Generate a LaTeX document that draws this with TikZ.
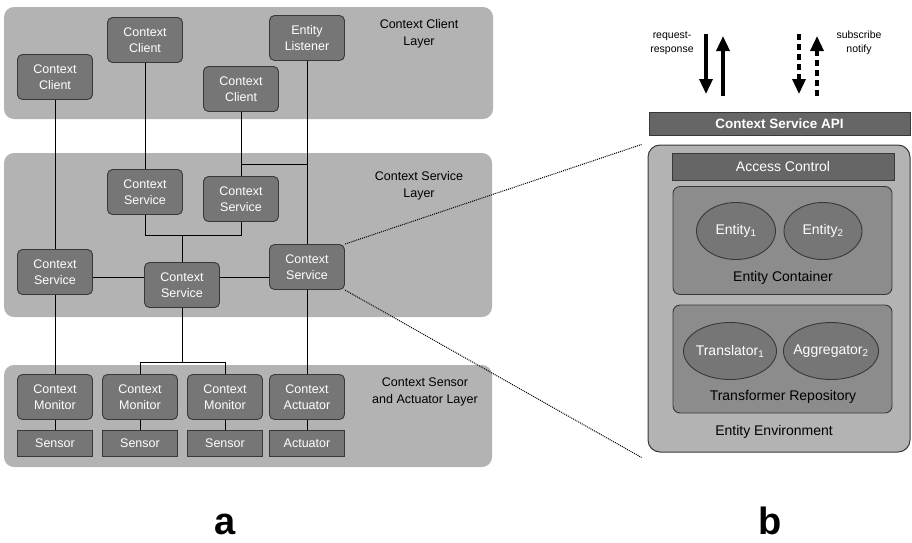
\documentclass[tikz,border=0pt]{standalone}
\usepackage{fontspec}
\setmainfont{Liberation Sans}
\usepackage{tikz}
\usetikzlibrary{arrows.meta,positioning,calc,shapes.geometric}
\definecolor{tiergray}{HTML}{B3B3B3}
\definecolor{compgray}{HTML}{767676}
\definecolor{edgegray}{HTML}{383838}
\definecolor{contgray}{HTML}{8C8C8C}
\definecolor{bargray}{HTML}{666666}
\tikzset{tier/.style={fill=tiergray, rounded corners=10pt, inner sep=0pt},
  comp/.style={draw=edgegray, fill=compgray, line width=0.9pt, rounded corners=5pt,
    minimum width=75pt, minimum height=45pt, inner sep=0pt, align=center,
    text=white, font=\fontsize{12.5}{16.5}\selectfont},
  sens/.style={comp, rounded corners=0pt, minimum height=26pt},
  tierlbl/.style={align=center, font=\fontsize{12.5}{17}\selectfont},
  bar/.style={draw=edgegray, fill=bargray, line width=0.9pt, inner sep=0pt,
    text=white, font=\fontsize{14}{17}\selectfont},
  cont/.style={draw=edgegray, fill=contgray, line width=0.9pt, rounded corners=7pt,
    minimum width=219pt, minimum height=108pt, inner sep=0pt},
  ent/.style={ellipse, draw=edgegray, fill=compgray, line width=0.9pt, inner ysep=0pt,
    inner xsep=-4pt, minimum height=57pt, text=white, font=\fontsize{14}{17}\selectfont},
  small/.style={align=center, font=\fontsize{10.5}{14}\selectfont},
  link/.style={line width=0.9pt},
  fat/.style={line width=3.4pt, -{Triangle[length=15pt, width=13pt]}}}

\begin{document}
\begin{tikzpicture}[x=1pt, y=-1pt]
\useasboundingbox (0,0) rectangle (912,542);
% layers
\node[tier, minimum width=489pt, minimum height=112pt] (clientL) at (248.5,63) {};
\node[tier, minimum width=488pt, minimum height=164pt] (serviceL) at (248,235) {};
\node[tier, minimum width=488pt, minimum height=102pt] (sensorL) at (248,416) {};
\node[tierlbl] (clientT) at (419,34) {Context Client\\Layer};
\node[tierlbl] (serviceT) at (419,186) {Context Service\\Layer};
\node[tierlbl] (sensorT) at (425,392) {Context Sensor\\and Actuator Layer};
% clients
\node[comp] (cc1) at (55,77) {Context\\Client};
\node[comp] (cc2) at (145,40) {Context\\Client};
\node[comp] (cc3) at (241,89) {Context\\Client};
\node[comp] (el) at (307,38) {Entity\\Listener};
% services
\node[comp] (csa) at (145,192) {Context\\Service};
\node[comp] (csb) at (241,199) {Context\\Service};
\node[comp] (csl) at (55,272) {Context\\Service};
\node[comp] (csm) at (182,285) {Context\\Service};
\node[comp] (csr) at (307,267) {Context\\Service};
% monitors, actuator
\node[comp] (cm1) at (55,397) {Context\\Monitor};
\node[comp] (cm2) at (140,397) {Context\\Monitor};
\node[comp] (cm3) at (225,397) {Context\\Monitor};
\node[comp] (ca) at (307,397) {Context\\Actuator};
\node[sens] (s1) at (55,443) {Sensor};
\node[sens] (s2) at (140,443) {Sensor};
\node[sens] (s3) at (225,443) {Sensor};
\node[sens] (act) at (307,443) {Actuator};
% junction heights
\coordinate (jtop) at (0,164);
\coordinate (jmid) at (0,235);
\coordinate (jhor) at (0,277);
\coordinate (jlow) at (0,362);
% wiring
\draw[link] (cc1) -- (csl);
\draw[link] (cc2) -- (csa);
\draw[link] (cc3) -- (csb);
\draw[link] (el) -- (csr);
\draw[link] (cc3.south |- jtop) -- (el.south |- jtop);
\draw[link] (csa.south) |- (jmid -| csb.south) -- (csb.south);
\draw[link] (csm.north) -- (csm.north |- jmid);
\draw[link] (csl.east |- jhor) -- (csm.west |- jhor);
\draw[link] (csm.east |- jhor) -- (csr.west |- jhor);
\draw[link] (csl) -- (cm1);
\draw[link] (csr) -- (ca);
\draw[link] (csm.south) -- (csm.south |- jlow);
\draw[link] (cm2.north) |- (jlow -| cm3.north) -- (cm3.north);
\foreach \m/\s in {cm1/s1, cm2/s2, cm3/s3, ca/act}
  \draw[link] (\m) -- (\s);
% panel b
\node[bar, minimum width=261pt, minimum height=23pt, font=\fontsize{13.5}{17}\bfseries\selectfont]
  (api) at (779.5,123.5) {Context Service API};
\node[draw=edgegray, fill=tiergray, line width=1pt, rounded corners=12pt,
  minimum width=262pt, minimum height=307pt, inner sep=0pt] (env) at (779,298.5) {};
\node[bar, minimum width=222pt, minimum height=27pt] (ac) at (783,166.5) {Access Control};
\node[cont] (ec) at (782.5,240.5) {};
\node[cont] (tr) at (782.5,359) {};
\node[ent, minimum width=79pt] (e1) at (736,231) {Entity\textsubscript{1}};
\node[ent, minimum width=78pt] (e2) at (823,231) {Entity\textsubscript{2}};
\node[ent, minimum width=93pt] (t1) at (730,351) {Translator\textsubscript{1}};
\node[ent, minimum width=95pt] (a2) at (831,351) {Aggregator\textsubscript{2}};
\node[font=\fontsize{14}{17}\selectfont] (ecT) at (783,278) {Entity Container};
\node[font=\fontsize{14}{17}\selectfont] (trT) at (783,397) {Transformer Repository};
\node[font=\fontsize{14}{17}\selectfont] (envT) at (774,432) {Entity Environment};
% zoom lines
\draw[densely dotted, line width=1pt] (csr.north east) -- ([xshift=-6pt]env.north west);
\draw[densely dotted, line width=1pt] (csr.south east) -- ([xshift=-6pt, yshift=-5pt]env.south west);
% interaction arrows
\coordinate (rq1) at (706,34);
\coordinate (rq2) at (706,94);
\coordinate (rs1) at (723,96);
\coordinate (rs2) at (723,36);
\coordinate (sb1) at (799,34);
\coordinate (sb2) at (799,94);
\coordinate (nt1) at (817,96);
\coordinate (nt2) at (817,36);
\draw[fat] (rq1) -- (rq2);
\draw[fat] (rs1) -- (rs2);
\draw[fat, dash pattern=on 6pt off 4pt] (sb1) -- (sb2);
\draw[fat, dash pattern=on 6pt off 4pt] (nt1) -- (nt2);
\node[small] (rqT) at (672,43) {request-\\response};
\node[small] (sbT) at (859,43) {subscribe\\notify};
% panel letters
\node[font=\fontsize{38}{38}\bfseries\selectfont, anchor=base] (laba) at (225,534) {a};
\node[font=\fontsize{38}{38}\bfseries\selectfont, anchor=base] (labb) at (770,534) {b};
\end{tikzpicture}
\end{document}
